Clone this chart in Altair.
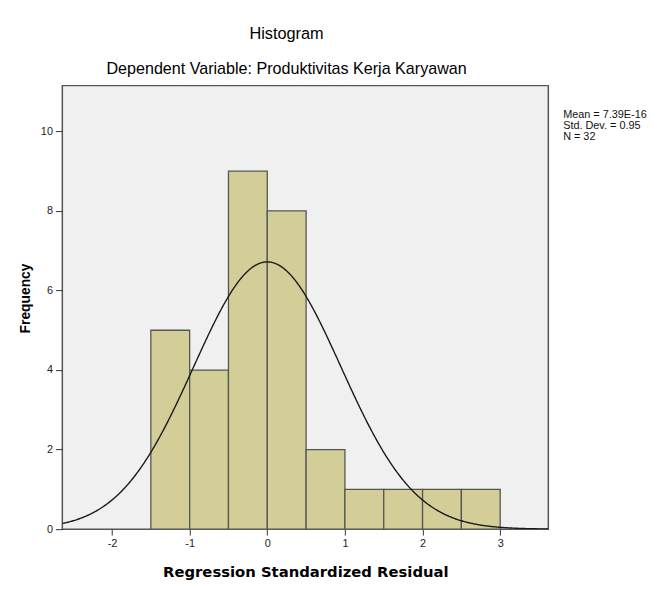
import altair as alt
import pandas as pd

# ---- data ----
bin_starts = [-1.5, -1.0, -0.5, 0.0, 0.5, 1.0, 1.5, 2.0, 2.5]
frequencies = [5, 4, 9, 8, 2, 1, 1, 1, 1]
bin_width = 0.5
mean_val = 7.39e-16
std_dev = 0.95
n_obs = 32
stats_lines = ["Mean = 7.39E-16", "Std. Dev. = 0.95", "N = 32"]
x_ticks = [-2, -1, 0, 1, 2, 3]
y_ticks = [0, 2, 4, 6, 8, 10]
x_domain = [-2.64, 3.62]
y_domain = [0, 11.15]

FONT = "Liberation Sans"

bars_df = pd.DataFrame({
    "start": bin_starts,
    "end": [s + bin_width for s in bin_starts],
    "freq": frequencies,
    "zero": [0] * len(bin_starts),
})

x_scale = alt.Scale(domain=x_domain, nice=False, zero=False)
y_scale = alt.Scale(domain=y_domain, nice=False, zero=True)

axis_style = dict(
    grid=False, domain=False, labelExpr="'' + datum.value",
    tickColor="#333333", tickWidth=1,
    labelFont=FONT, labelFontSize=11, labelColor="#222222", labelPadding=3,
    titleFontWeight="bold", titleColor="#000000",
)

bars = alt.Chart(bars_df).mark_rect(
    fill="#d3ce97", stroke="#555555", strokeWidth=1.3
).encode(
    x=alt.X("start:Q", scale=x_scale,
            axis=alt.Axis(values=x_ticks, title="Regression Standardized Residual",
                          titleFont="DejaVu Sans", titleFontSize=15, tickSize=6,
                          titlePadding=16, **axis_style)),
    x2="end:Q",
    y=alt.Y("freq:Q", scale=y_scale,
            axis=alt.Axis(values=y_ticks, title="Frequency", titleFont=FONT,
                          titleFontSize=14, tickSize=7, titlePadding=8,
                          titleY=215, **axis_style)),
    y2="zero:Q",
)

density_expr = (
    f"{n_obs * bin_width} / ({std_dev} * sqrt(2 * PI)) * "
    f"exp(-0.5 * pow((datum.x - ({mean_val})) / {std_dev}, 2))"
)

curve = alt.Chart(alt.sequence(x_domain[0], x_domain[1] + 0.01, 0.01, as_="x")).transform_calculate(
    y=density_expr
).mark_line(color="#1a1a1a", strokeWidth=1.4, clip=True).encode(
    x=alt.X("x:Q", scale=x_scale),
    y=alt.Y("y:Q", scale=y_scale),
)

stats = alt.Chart(pd.DataFrame({"t": ["\n".join(stats_lines)]})).mark_text(
    align="left", baseline="alphabetic", font=FONT, fontSize=11, lineHeight=11,
    lineBreak="\n", color="#111111"
).encode(
    text="t:N",
    x=alt.value(507),
    y=alt.value(33),
)

chart = alt.layer(bars, curve, stats).properties(
    width=492,
    height=449,
    padding={"left": 55, "top": 75, "right": 109, "bottom": 57},
    autosize=alt.AutoSizeParams(type="none"),
    background="white",
    title=alt.TitleParams(
        text="Histogram",
        subtitle="Dependent Variable: Produktivitas Kerja Karyawan",
        font=FONT, fontSize=16.5, fontWeight="normal", color="#000000",
        subtitleFont=FONT, subtitleFontSize=16.3, subtitleColor="#000000",
        subtitleFontWeight="normal",
        anchor="middle", dx=-19, offset=8, subtitlePadding=19,
    ),
).configure_view(
    fill="#f0f0f0", stroke="#555555", strokeWidth=1.5
)

chart.save("out.html", embed_options={"renderer": "svg", "actions": False})
